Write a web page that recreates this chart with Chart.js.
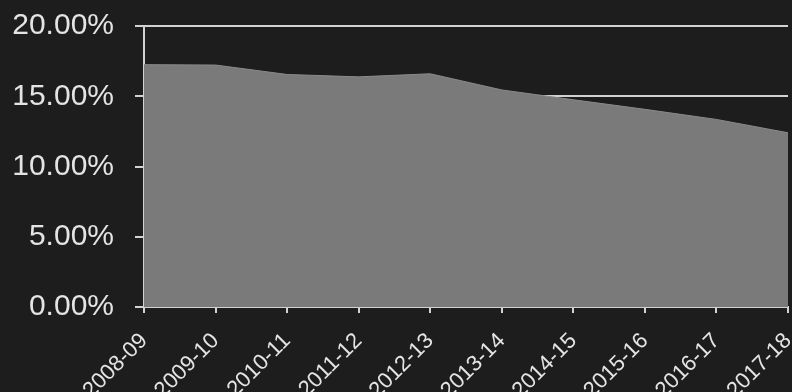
<!DOCTYPE html>
<html>
<head>
<meta charset="utf-8">
<script src="https://cdn.jsdelivr.net/npm/chart.js@4/dist/chart.umd.min.js"></script>
<style>
  html, body { margin: 0; padding: 0; background: #1d1d1d; }
  #wrap { width: 792px; height: 392px; }
</style>
</head>
<body>
<div id="wrap"><canvas id="c" width="792" height="392"></canvas></div>
<script>
// Financial years on the x axis
const years = ['2008-09', '2009-10', '2010-11', '2011-12', '2012-13',
               '2013-14', '2014-15', '2015-16', '2016-17', '2017-18'];
// Share per year, in percent
const shares = [17.25, 17.22, 16.55, 16.38, 16.60, 15.45, 14.75, 14.07, 13.35, 12.40];
// Y axis tick range (percent)
const yMin = 0, yMax = 20, yStep = 5;

const textColor = '#e4e4e4';
const lineColor = '#d2d2d2';

const background = {
  id: 'background',
  beforeDraw(chart) {
    const ctx = chart.ctx;
    ctx.save();
    ctx.fillStyle = '#1d1d1d';
    ctx.fillRect(0, 0, chart.width, chart.height);
    ctx.restore();
  }
};

new Chart(document.getElementById('c'), {
  type: 'line',
  data: {
    labels: years,
    datasets: [{
      data: shares,
      fill: 'origin',
      backgroundColor: '#7a7a7a',
      borderColor: '#8a8a8a',
      borderWidth: 1,
      pointRadius: 0,
      tension: 0
    }]
  },
  options: {
    responsive: false,
    animation: false,
    layout: { padding: { top: 26, right: 4, left: 0, bottom: 0 } },
    plugins: { legend: { display: false }, tooltip: { enabled: false } },
    scales: {
      x: {
        offset: false,
        grid: { drawOnChartArea: false, drawTicks: true, tickLength: 6, color: lineColor, lineWidth: 2 },
        border: { display: true, color: lineColor, width: 2 },
        ticks: {
          color: textColor,
          font: { family: 'Liberation Sans, Arial, sans-serif', size: 22 },
          minRotation: 45, maxRotation: 45, autoSkip: false, padding: 15
        },
        afterFit(scale) {
          scale.height = 85;
          scale.paddingLeft = 0;
          scale.paddingRight = 0;
        }
      },
      y: {
        min: yMin, max: yMax,
        grid: { drawOnChartArea: true, drawTicks: true, tickLength: 9, color: lineColor, lineWidth: 2 },
        border: { display: true, color: lineColor, width: 2 },
        ticks: {
          stepSize: yStep,
          color: textColor,
          padding: 21,
          font: { family: 'Liberation Sans, Arial, sans-serif', size: 30 },
          callback: v => v.toFixed(2) + '%'
        },
        afterFit(scale) {
          scale.width = 144;
          scale.paddingTop = 0;
          scale.paddingBottom = 0;
        }
      }
    }
  },
  plugins: [background]
});
</script>
</body>
</html>
